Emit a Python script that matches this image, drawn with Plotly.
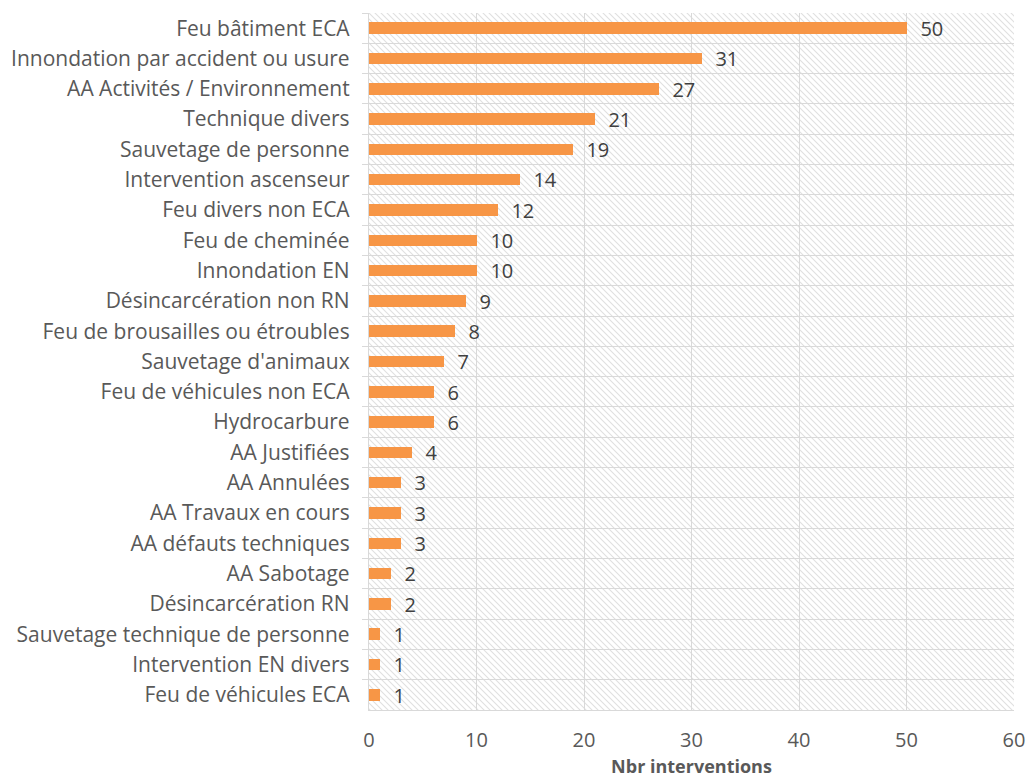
import base64
import plotly.graph_objects as go

categories = [
    "Feu bâtiment ECA",
    "Innondation par accident ou usure",
    "AA Activités / Environnement",
    "Technique divers",
    "Sauvetage de personne",
    "Intervention ascenseur",
    "Feu divers non ECA",
    "Feu de cheminée",
    "Innondation EN",
    "Désincarcération non RN",
    "Feu de brousailles ou étroubles",
    "Sauvetage d'animaux",
    "Feu de véhicules non ECA",
    "Hydrocarbure",
    "AA Justifiées",
    "AA Annulées",
    "AA Travaux en cours",
    "AA défauts techniques",
    "AA Sabotage",
    "Désincarcération RN",
    "Sauvetage technique de personne",
    "Intervention EN divers",
    "Feu de véhicules ECA",
]
values = [50, 31, 27, 21, 19, 14, 12, 10, 10, 9, 8, 7, 6, 6, 4, 3, 3, 3, 2, 2, 1, 1, 1]
x_ticks = [0, 10, 20, 30, 40, 50, 60]
x_max = 60

FONT = "Open Sans"
TXT = "#595959"
GRID = "#d9d9d9"

W, H = 1030, 778
ML, MR, MT, MB = 369, 16, 13, 68
PW, PH = W - ML - MR, H - MT - MB

# hatched plot-area background (decorative)
svg = (
    f'<svg xmlns="http://www.w3.org/2000/svg" width="{PW}" height="{PH}">'
    '<defs><pattern id="h" patternUnits="userSpaceOnUse" width="6" height="6">'
    '<path d="M-1,-1 L7,7 M-1,5 L1,7 M5,-1 L7,1" stroke="#e0e0e0" stroke-width="1.1"/>'
    '</pattern></defs>'
    f'<rect width="{PW}" height="{PH}" fill="white"/>'
    f'<rect width="{PW}" height="{PH}" fill="url(#h)"/></svg>'
)
svg_uri = "data:image/svg+xml;base64," + base64.b64encode(svg.encode()).decode()

fig = go.Figure()

fig.add_trace(go.Bar(
    y=categories, x=values, orientation="h",
    width=0.38,
    marker=dict(color="#F79646", line=dict(width=0)),
    text=["  " + str(v) for v in values], textposition="outside",
    constraintext="none",
    textfont=dict(family=FONT, size=20, color="#404040"),
    cliponaxis=False, showlegend=False, hoverinfo="skip",
))

fig.update_layout(
    width=W, height=H,
    margin=dict(l=ML, r=MR, t=MT, b=MB),
    paper_bgcolor="white", plot_bgcolor="white",
    bargap=0,
    font=dict(family=FONT, size=20, color=TXT),
    images=[dict(
        source=svg_uri, xref="paper", yref="paper",
        x=0, y=1, sizex=1, sizey=1, xanchor="left", yanchor="top",
        sizing="stretch", layer="below",
    )],
    xaxis=dict(
        range=[0, x_max], tickvals=x_ticks,
        showgrid=True, gridcolor=GRID, gridwidth=1.3,
        showline=True, linecolor=GRID, linewidth=1.3,
        zeroline=False, ticks="", automargin=False,
        tickfont=dict(family=FONT, size=20, color=TXT),
        ticklabelstandoff=12,
        title=dict(text="<b>Nbr interventions</b>", standoff=13,
                   font=dict(family=FONT, size=18, color=TXT)),
    ),
    yaxis=dict(
        type="category", autorange="reversed",
        tickson="boundaries", ticks="outside", ticklen=6,
        tickcolor=GRID, tickwidth=1.3,
        showgrid=True, gridcolor=GRID, gridwidth=1.3,
        showline=True, linecolor=GRID, linewidth=1.3,
        automargin=False,
        tickfont=dict(family=FONT, size=21, color=TXT),
        ticklabelstandoff=14,
    ),
)

fig.write_html(
    "out.html",
    config={"displayModeBar": False},
    post_script="document.body.style.margin='0';document.body.style.overflow='hidden';",
)
